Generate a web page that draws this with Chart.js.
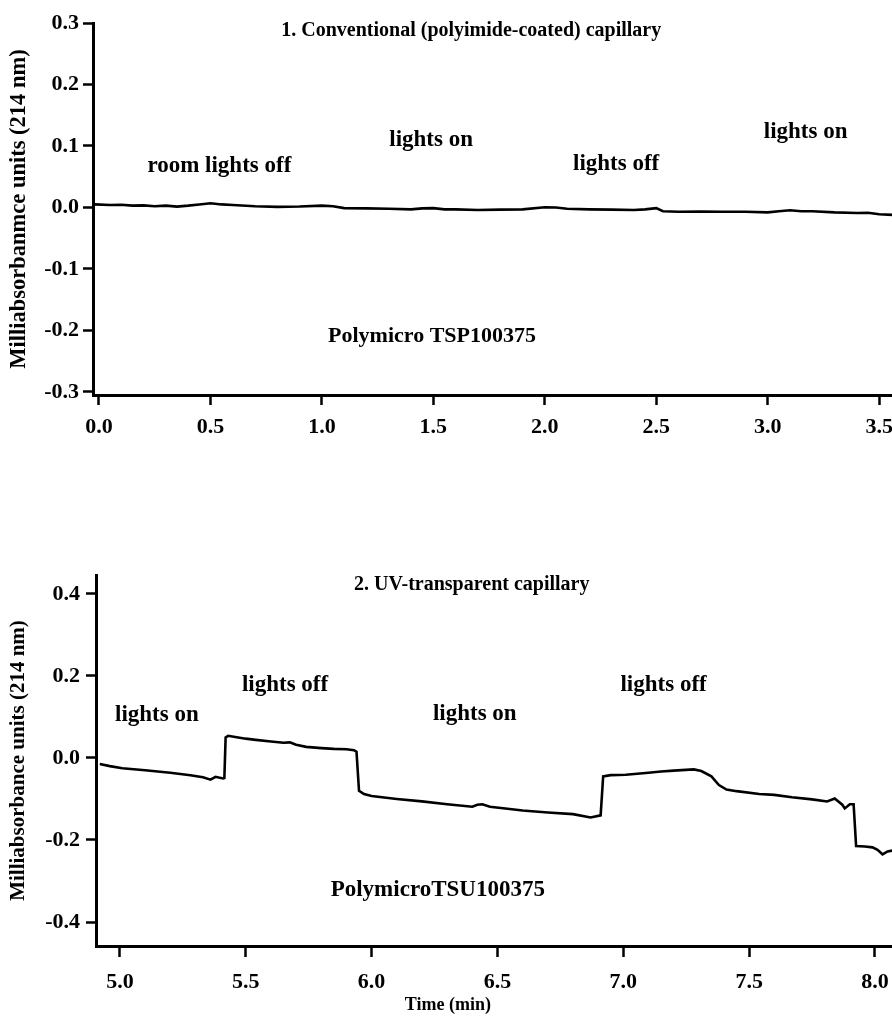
<!DOCTYPE html>
<html>
<head>
<meta charset="utf-8">
<script src="https://cdn.jsdelivr.net/npm/chart.js@4/dist/chart.umd.min.js"></script>
<style>
  html, body { margin: 0; padding: 0; background: #fff; overflow: hidden; width: 892px; height: 1017px; }
  #wrap { position: relative; width: 892px; height: 1017px; overflow: hidden; }
  canvas { position: absolute; left: 0; }
  #c1 { top: 0; }
  #c2 { top: 540px; }
</style>
</head>
<body>
<div id="wrap">
  <canvas id="c1" width="960" height="460"></canvas>
  <canvas id="c2" width="960" height="477"></canvas>
</div>
<script>
// ---------- Panel 1 data (conventional capillary) ----------
const topTimes = [-0.02, 0.05, 0.1, 0.15, 0.2, 0.25, 0.3, 0.35, 0.4, 0.45, 0.5, 0.55, 0.6, 0.7, 0.8, 0.9, 1.0, 1.05, 1.1, 1.2, 1.3, 1.4, 1.45, 1.5, 1.55, 1.6, 1.7, 1.8, 1.9, 2.0, 2.05, 2.1, 2.2, 2.3, 2.4, 2.45, 2.5, 2.53, 2.6, 2.7, 2.8, 2.9, 3.0, 3.05, 3.1, 3.15, 3.2, 3.3, 3.4, 3.45, 3.5, 3.56];
const topValues = [0.005, 0.004, 0.0045, 0.003, 0.0035, 0.002, 0.003, 0.0015, 0.003, 0.005, 0.007, 0.005, 0.004, 0.002, 0.001, 0.0015, 0.003, 0.002, -0.001, -0.0015, -0.002, -0.003, -0.0015, -0.001, -0.003, -0.003, -0.004, -0.0035, -0.003, 0.0005, 0.0, -0.002, -0.003, -0.0035, -0.004, -0.003, -0.001, -0.006, -0.007, -0.0065, -0.007, -0.007, -0.008, -0.006, -0.0045, -0.006, -0.006, -0.008, -0.009, -0.0085, -0.011, -0.012];
const topYTicks = [-0.3, -0.2, -0.1, 0.0, 0.1, 0.2, 0.3];
const topXTicks = [0.0, 0.5, 1.0, 1.5, 2.0, 2.5, 3.0, 3.5];
const topLabelTexts = ["1. Conventional (polyimide-coated) capillary", "room lights off", "lights on", "lights off", "lights on", "Polymicro TSP100375"];
const topLabelX = [1.67, 0.54, 1.49, 2.32, 3.17, 1.494];
const topLabelY = [0.288, 0.068, 0.11, 0.071, 0.1225, -0.21];

// ---------- Panel 2 data (UV-transparent capillary) ----------
const botTimes = [4.92, 4.96, 5.01, 5.1, 5.15, 5.2, 5.28, 5.33, 5.36, 5.38, 5.41, 5.415, 5.42, 5.43, 5.47, 5.5, 5.54, 5.6, 5.65, 5.675, 5.7, 5.74, 5.8, 5.85, 5.9, 5.93, 5.94, 5.95, 5.97, 6.0, 6.1, 6.2, 6.3, 6.4, 6.42, 6.44, 6.47, 6.54, 6.6, 6.7, 6.8, 6.87, 6.91, 6.92, 6.95, 7.01, 7.1, 7.15, 7.2, 7.28, 7.31, 7.35, 7.38, 7.41, 7.45, 7.54, 7.6, 7.67, 7.75, 7.81, 7.84, 7.87, 7.88, 7.9, 7.915, 7.925, 7.96, 7.99, 8.01, 8.03, 8.05, 8.068];
const botValues = [-0.015, -0.02, -0.025, -0.03, -0.033, -0.036, -0.042, -0.047, -0.053, -0.046, -0.05, -0.049, 0.05, 0.054, 0.05, 0.047, 0.044, 0.04, 0.037, 0.038, 0.032, 0.027, 0.024, 0.022, 0.021, 0.019, 0.015, -0.08, -0.088, -0.093, -0.1, -0.106, -0.113, -0.119, -0.114, -0.113, -0.119, -0.124, -0.128, -0.133, -0.137, -0.145, -0.14, -0.045, -0.042, -0.041, -0.036, -0.033, -0.031, -0.028, -0.032, -0.045, -0.066, -0.077, -0.081, -0.088, -0.09, -0.096, -0.101, -0.106, -0.099, -0.114, -0.123, -0.113, -0.113, -0.215, -0.216, -0.218, -0.224, -0.235, -0.228, -0.226];
const botYTicks = [-0.4, -0.2, 0.0, 0.2, 0.4];
const botXTicks = [5.0, 5.5, 6.0, 6.5, 7.0, 7.5, 8.0];
const botLabelTexts = ["2. UV-transparent capillary", "lights on", "lights off", "lights on", "lights off", "PolymicroTSU100375", "Time (min)"];
const botLabelX = [6.398, 5.147, 5.656, 6.41, 7.16, 6.263, 6.303];
const botLabelY = [0.422, 0.104, 0.177, 0.107, 0.178, -0.322, -0.602];

// ---------- helpers ----------
const FONT = "'Liberation Serif', 'Times New Roman', serif";

function textPlugin(texts, xs, ys, sizes) {
  return {
    id: 'textLabels',
    afterDatasetsDraw(chart) {
      const ctx = chart.ctx;
      const xs_ = chart.scales.x, ys_ = chart.scales.y;
      ctx.save();
      ctx.fillStyle = '#000';
      ctx.textAlign = 'center';
      ctx.textBaseline = 'middle';
      texts.forEach((t, i) => {
        ctx.font = 'bold ' + sizes[i] + 'px ' + FONT;
        ctx.fillText(t, xs_.getPixelForValue(xs[i]), ys_.getPixelForValue(ys[i]));
      });
      ctx.restore();
    }
  };
}

function makeChart(id, times, values, cfg) {
  const data = times.map((t, i) => ({x: t, y: values[i]}));
  return new Chart(document.getElementById(id), {
    type: 'line',
    data: { datasets: [{ data, borderColor: '#000', borderWidth: 2.6, pointRadius: 0, tension: 0, fill: false }] },
    options: {
      responsive: false,
      animation: false,
      devicePixelRatio: 1,
      events: [],
      layout: { padding: { top: cfg.padTop, left: 0, right: 10, bottom: 0 } },
      plugins: { legend: { display: false }, tooltip: { enabled: false }, title: { display: false } },
      scales: {
        x: {
          type: 'linear',
          min: cfg.xMin, max: cfg.xMax,
          afterFit: s => { s.height = cfg.xHeight; },
          afterBuildTicks: s => { s.ticks = cfg.xTicks.map(v => ({value: v})); },
          ticks: {
            color: '#000', font: { family: FONT, size: 22, weight: 'bold' },
            padding: cfg.xPad, maxRotation: 0, autoSkip: false,
            callback: v => Number(v).toFixed(1)
          },
          grid: { display: true, drawOnChartArea: false, drawTicks: true, tickLength: cfg.xTickLen, tickWidth: 2.5, tickColor: '#000' },
          border: { display: true, color: '#000', width: 3 }
        },
        y: {
          type: 'linear',
          min: cfg.yMin, max: cfg.yMax,
          afterFit: s => { s.width = cfg.yWidth; },
          afterBuildTicks: s => { s.ticks = cfg.yTicks.map(v => ({value: v})); },
          ticks: {
            color: '#000', font: { family: FONT, size: 22, weight: 'bold' },
            padding: cfg.yPad, autoSkip: false,
            callback: v => Number(v).toFixed(1)
          },
          grid: { display: true, drawOnChartArea: false, drawTicks: true, tickLength: 10, tickWidth: 2.5, tickColor: '#000' },
          border: { display: true, color: '#000', width: 3 },
          title: { display: true, text: cfg.yTitle, color: '#000', font: { family: FONT, size: cfg.yTitleSize, weight: 'bold' }, padding: { top: 6, bottom: 0 } }
        }
      }
    },
    plugins: [textPlugin(cfg.texts, cfg.tx, cfg.ty, cfg.sizes)]
  });
}

makeChart('c1', topTimes, topValues, {
  padTop: 23, xMin: -0.0269, xMax: 3.8178, yMin: -0.3049, yMax: 0.3,
  xHeight: 65, yWidth: 93, xPad: 9, yPad: 4, xTickLen: 10,
  xTicks: topXTicks, yTicks: topYTicks,
  yTitle: 'Milliabsorbanmce units (214 nm)', yTitleSize: 22.5,
  texts: topLabelTexts, tx: topLabelX, ty: topLabelY,
  sizes: [20, 23, 23, 23, 23, 22]
});

makeChart('c2', botTimes, botValues, {
  padTop: 35, xMin: 4.905, xMax: 8.298, yMin: -0.4585, yMax: 0.446,
  xHeight: 71, yWidth: 96, xPad: 12, yPad: 6, xTickLen: 11,
  xTicks: botXTicks, yTicks: botYTicks,
  yTitle: 'Milliabsorbance units (214 nm)', yTitleSize: 21,
  texts: botLabelTexts, tx: botLabelX, ty: botLabelY,
  sizes: [20, 23, 23, 23, 23, 23, 18]
});
</script>
</body>
</html>
